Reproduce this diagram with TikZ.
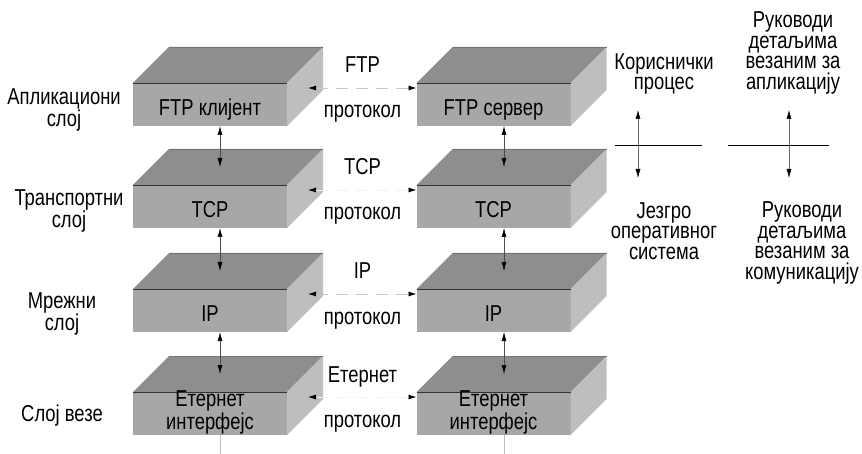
\documentclass[tikz,border=0pt]{standalone}
\usepackage{fontspec}
\setmainfont[FakeStretch=0.8]{Liberation Sans}
\usetikzlibrary{arrows.meta,calc}

\definecolor{topface}{HTML}{8E8E8E}
\definecolor{frontface}{HTML}{A7A7A7}
\definecolor{sideface}{HTML}{BEBEBE}
\definecolor{dashgray}{HTML}{C8C8C8}
\definecolor{faintgray}{HTML}{F2F2F2}

% top and side faces of a layer block, drawn around its front face node
\newcommand\blockfaces[1]{%
  \fill[topface] (#1.north west) -- ++(36,-36) -- ++(154,0) -- (#1.north east) -- cycle;
  \fill[sideface] (#1.north east) -- ++(36,-36) -- ++(0,43) -- (#1.south east) -- cycle;
  \draw[line width=0.4pt, draw=black!55] ($(#1.north west)+(36,-36)$) -- ++(154,0);
  \draw[line width=0.8pt, draw=black!80] (#1.north west) -- (#1.north east);
}

\begin{document}
\begin{tikzpicture}[x=1pt,y=-1pt,
  txt/.style={font=\fontsize{23}{20.5}\selectfont, inner sep=0pt, outer sep=0pt, align=center},
  front/.style={fill=frontface, draw=none, minimum width=154pt, minimum height=43pt,
                inner sep=0pt, outer sep=0pt},
  peer/.style={{Latex[length=8pt,width=5pt,color=black]}-{Latex[length=8pt,width=5pt,color=black]},
               line width=0.8pt, dash pattern=on 12pt off 8pt},
  stack/.style={{Latex[length=9pt,width=5pt,color=black]}-{Latex[length=9pt,width=5pt,color=black]},
                line width=0.6pt, draw=black!70},
  split/.style={{Latex[length=9pt,width=5pt,color=black]}-{Latex[length=9pt,width=5pt,color=black]},
                line width=0.5pt, draw=black!60},
  rule/.style={line width=0.8pt, draw=black}]

\useasboundingbox (0,0) rectangle (862,454);

% front faces of the two protocol stacks
\node[front] (cl1) at (210,104.5) {};
\node[front] (cl2) at (210,206.5) {};
\node[front] (cl3) at (210,310.5) {};
\node[front] (cl4) at (210,413.5) {};
\node[front] (sv1) at (493.5,104.5) {};
\node[front] (sv2) at (493.5,206.5) {};
\node[front] (sv3) at (493.5,310.5) {};
\node[front] (sv4) at (493.5,413.5) {};

\foreach \b in {cl1,cl2,cl3,cl4,sv1,sv2,sv3,sv4} {\blockfaces{\b}}

% names inside the blocks
\node[txt, anchor=base] (tcl1) at ($(cl1.center)+(0,11)$) {FTP клијент};
\node[txt, anchor=base] (tcl2) at ($(cl2.center)+(0,11)$) {TCP};
\node[txt, anchor=base] (tcl3) at ($(cl3.center)+(0,11)$) {IP};
\node[txt] (tcl4) at ($(cl4.center)+(0,-1)$) {Етернет\\интерфејс};
\node[txt, anchor=base] (tsv1) at ($(sv1.center)+(0,11)$) {FTP сервер};
\node[txt, anchor=base] (tsv2) at ($(sv2.center)+(0,11)$) {TCP};
\node[txt, anchor=base] (tsv3) at ($(sv3.center)+(0,11)$) {IP};
\node[txt] (tsv4) at ($(sv4.center)+(0,-1)$) {Етернет\\интерфејс};

% arrows between neighbouring layers of one stack
\foreach \a/\b in {cl1/cl2,cl2/cl3,cl3/cl4} {
  \draw[stack] ($(\a.south)+(10,0)$) -- ($(\b.north)+(10,-18)$);
}
\foreach \a/\b in {sv1/sv2,sv2/sv3,sv3/sv4} {
  \draw[stack] ($(\a.south)+(10.5,0)$) -- ($(\b.north)+(10.5,-18)$);
}
% lines to the physical medium
\coordinate (clbot) at (220,454);
\coordinate (svbot) at (504,454);
\draw[line width=0.6pt, draw=black!25] ($(cl4.south)+(10,0)$) -- (clbot);
\draw[line width=0.6pt, draw=black!25] ($(sv4.south)+(10.5,0)$) -- (svbot);

% peer-to-peer protocol arrows
\draw[peer, draw=dashgray] ($(cl1.north east)+(21,5)$) -- ($(sv1.north west)+(0,5)$);
\draw[peer, draw=faintgray] ($(cl2.north east)+(21,5)$) -- ($(sv2.north west)+(0,5)$);
\draw[peer, draw=dashgray] ($(cl3.north east)+(21,5)$) -- ($(sv3.north west)+(0,5)$);
\draw[peer, draw=faintgray] ($(cl4.north east)+(21,5)$) -- ($(sv4.north west)+(0,5)$);

% protocol labels
\node[txt, anchor=base] (p1a) at (362.5,73) {FTP};
\node[txt, anchor=base] (p1b) at (362.5,118) {протокол};
\node[txt, anchor=base] (p2a) at (362.5,175) {TCP};
\node[txt, anchor=base] (p2b) at (362.5,220) {протокол};
\node[txt, anchor=base] (p3a) at (362.5,279) {IP};
\node[txt, anchor=base] (p3b) at (362.5,324) {протокол};
\node[txt, anchor=base] (p4a) at (362.5,382) {Етернет};
\node[txt, anchor=base] (p4b) at (362.5,427) {протокол};

% layer names
\node[txt] (l1) at (64,110) {Апликациони\\слој};
\node[txt] (l2) at (69,211) {Транспортни\\слој};
\node[txt] (l3) at (62,314) {Мрежни\\слој};
\node[txt, anchor=base] (l4) at (62,421) {Слој везе};

% user process / kernel split
\node[txt] (up) at (664,74) {Кориснички\\процес};
\node[txt] (kn) at (664,231) {Језгро\\оперативног\\система};
\coordinate (upa) at (638,110);
\coordinate (kna) at (638,178);
\draw[split] (upa) -- (kna);
\coordinate (r1a) at (615,145);
\coordinate (r1b) at (702,145);
\draw[rule] (r1a) -- (r1b);

% application / communication split
\node[txt] (ap) at (793,53) {Руководи\\детаљима\\везаним за\\апликацију};
\node[txt] (cm) at (802,243) {Руководи\\детаљима\\везаним за\\комуникацију};
\coordinate (apa) at (789,110);
\coordinate (cma) at (789,178);
\draw[split] (apa) -- (cma);
\coordinate (r2a) at (728,145);
\coordinate (r2b) at (829,145);
\draw[rule] (r2a) -- (r2b);

\end{tikzpicture}
\end{document}
